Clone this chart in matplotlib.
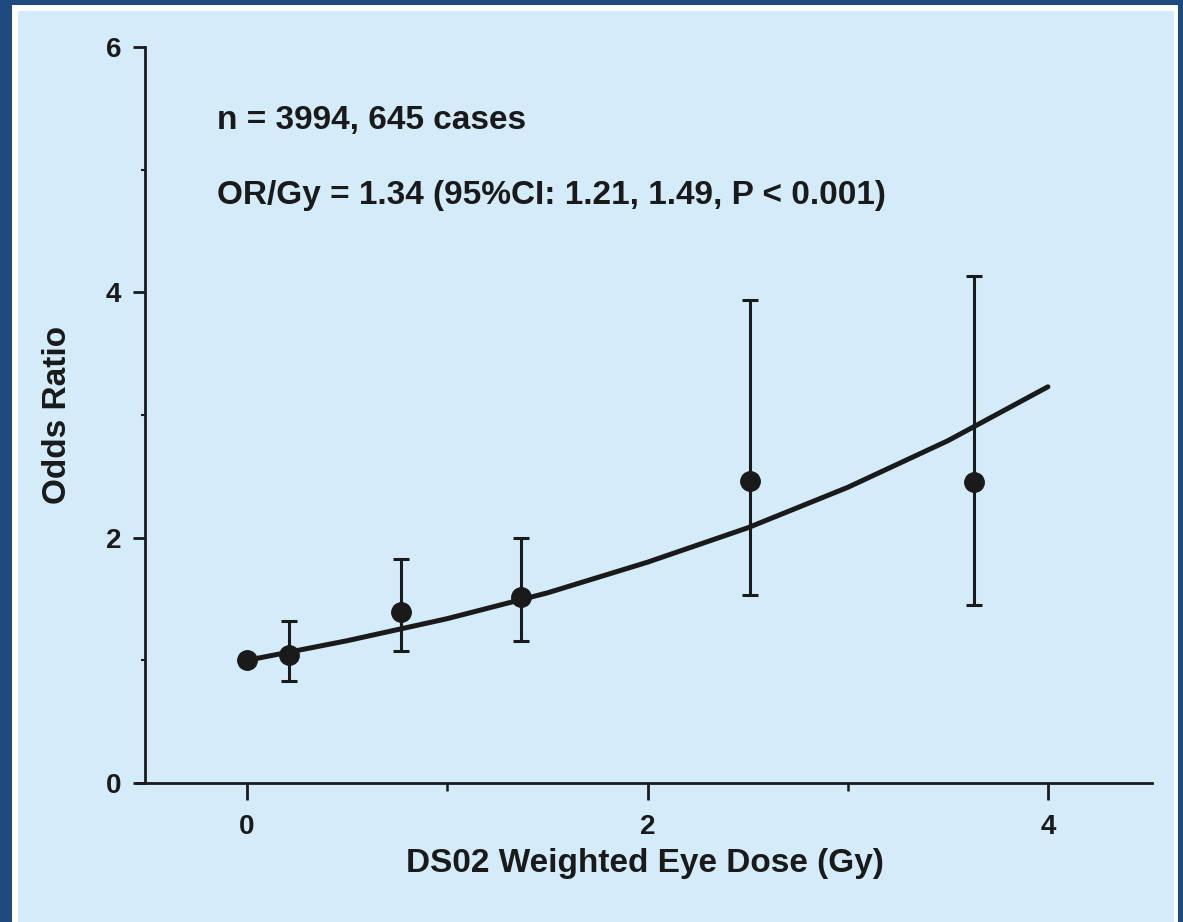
import matplotlib.pyplot as plt
from matplotlib.patches import Rectangle
from matplotlib.ticker import MultipleLocator

# Observed odds ratios by dose group
dose = [0.0, 0.21, 0.77, 1.37, 2.51, 3.63]
odds = [1.00, 1.04, 1.39, 1.52, 2.46, 2.45]
ci_low = [1.00, 0.83, 1.08, 1.16, 1.53, 1.45]
ci_high = [1.00, 1.32, 1.83, 2.00, 3.94, 4.13]

# Fitted curve
fit_x = [0.0, 0.5, 1.0, 1.5, 2.0, 2.5, 3.0, 3.5, 4.0]
fit_y = [1.00, 1.16, 1.34, 1.55, 1.80, 2.08, 2.41, 2.79, 3.23]

x_ticks = [0, 2, 4]
y_ticks = [0, 2, 4, 6]

DARK = "#1f4a80"
LIGHT = "#d4ecf9"
INK = "#1a1a1a"

plt.rcParams['font.family'] = ['Liberation Sans', 'DejaVu Sans']

W, H = 1183, 922
fig = plt.figure(figsize=(W / 100, H / 100), dpi=100, facecolor=DARK)

def px_rect(x0, y0, x1, y1, color, z):
    # rectangle given in pixel coords measured from top-left
    fig.patches.append(Rectangle((x0 / W, 1 - y1 / H), (x1 - x0) / W, (y1 - y0) / H,
                                 transform=fig.transFigure, facecolor=color,
                                 edgecolor='none', zorder=z))

px_rect(12, 5, 1178, H + 5, "white", -2)
px_rect(18, 11, 1174, H + 5, LIGHT, -1)

ax = fig.add_axes([137 / W, (H - 783) / H, (1152 - 137) / W, (783 - 47) / H])
ax.set_facecolor('none')
ax.set_zorder(1)

ax.plot(fit_x, fit_y, color=INK, lw=3.6, solid_capstyle='round', zorder=2)

yerr = [[o - l for o, l in zip(odds, ci_low)], [h - o for o, h in zip(odds, ci_high)]]
ax.errorbar(dose, odds, yerr=yerr, fmt='o', color=INK, ms=14, elinewidth=2.2,
            capsize=6, capthick=2.2, zorder=3)

ax.set_xlim(-0.55, 4.52)
ax.set_ylim(0, 6)
for s in ['top', 'right']:
    ax.spines[s].set_visible(False)
ax.spines['left'].set_position(('data', -0.51))
for s in ['left', 'bottom']:
    ax.spines[s].set_linewidth(2)
    ax.spines[s].set_color(INK)

ax.set_xticks(x_ticks)
ax.set_yticks(y_ticks)
ax.xaxis.set_minor_locator(MultipleLocator(1))
ax.yaxis.set_minor_locator(MultipleLocator(1))
ax.tick_params(which='major', width=2, color=INK, labelsize=20, labelcolor=INK)
ax.tick_params(axis='x', which='major', length=12, pad=10)
ax.tick_params(axis='y', which='major', length=9, pad=8)
ax.tick_params(axis='x', which='minor', length=6, width=1.8, color=INK)
ax.tick_params(axis='y', which='minor', length=3, width=1.5, color=INK)
for lab in ax.get_xticklabels() + ax.get_yticklabels():
    lab.set_fontweight('bold')

ax.set_ylabel('Odds Ratio', fontsize=24, fontweight='bold', color=INK, labelpad=24)
ax.set_xlabel('DS02 Weighted Eye Dose (Gy)', fontsize=24, fontweight='bold',
              color=INK, labelpad=6)

ax.text(-0.15, 5.40, 'n = 3994, 645 cases', fontsize=24, fontweight='bold',
        color=INK, va='center')
ax.text(-0.15, 4.79, 'OR/Gy = 1.34 (95%CI: 1.21, 1.49, P < 0.001)', fontsize=24,
        fontweight='bold', color=INK, va='center')

fig.savefig('out.png', dpi=100, facecolor=DARK)
